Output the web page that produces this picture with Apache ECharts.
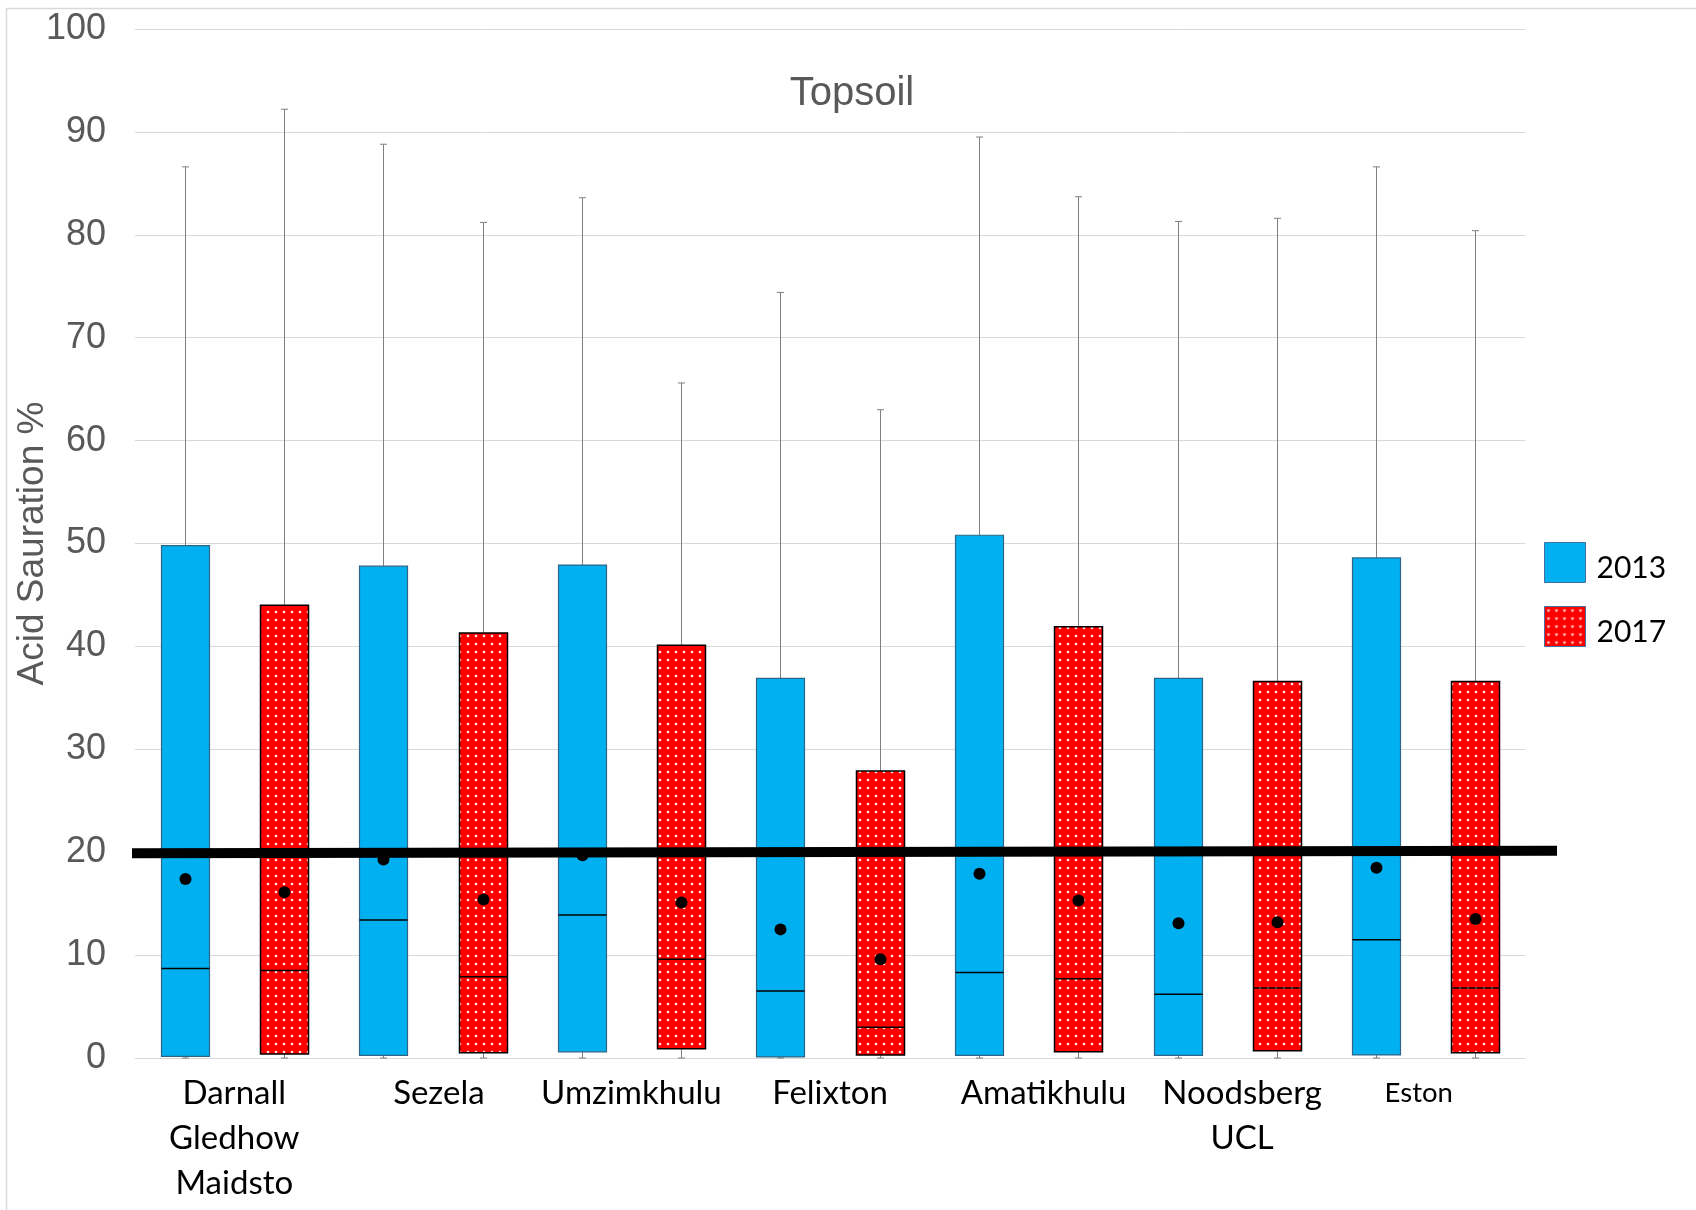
<!DOCTYPE html>
<html>
<head>
<meta charset="utf-8">
<script src="https://cdn.jsdelivr.net/npm/echarts@6/dist/echarts.min.js"></script>
<style>
  html, body { margin: 0; padding: 0; background: #fff; }
  #chart { width: 1696px; height: 1210px; }
</style>
</head>
<body>
<div id="chart"></div>
<script>
// ---- Data ----
const groups = ['Darnall\nGledhow\nMaidsto', 'Sezela', 'Umzimkhulu', 'Felixton', 'Amatikhulu', 'Noodsberg\nUCL', 'Eston'];
const seriesNames = ['2013', '2017'];

const min2013    = [0, 0, 0, 0, 0, 0, 0];
const q1_2013    = [0.15, 0.25, 0.6, 0.1, 0.25, 0.25, 0.3];
const median2013 = [8.7, 13.4, 13.9, 6.5, 8.3, 6.2, 11.5];
const q3_2013    = [49.8, 47.8, 47.9, 36.9, 50.8, 36.9, 48.6];
const max2013    = [86.6, 88.8, 83.6, 74.4, 89.5, 81.3, 86.6];
const mean2013   = [17.4, 19.3, 19.7, 12.5, 17.9, 13.1, 18.5];

const min2017    = [0, 0, 0, 0, 0, 0, 0];
const q1_2017    = [0.4, 0.5, 0.9, 0.3, 0.6, 0.7, 0.5];
const median2017 = [8.5, 7.9, 9.6, 3.0, 7.7, 6.8, 6.8];
const q3_2017    = [44.0, 41.3, 40.1, 27.9, 41.9, 36.6, 36.6];
const max2017    = [92.2, 81.2, 65.6, 63.0, 83.7, 81.6, 80.4];
const mean2017   = [16.1, 15.4, 15.1, 9.6, 15.3, 13.2, 13.5];

const thresholdLine = [19.9, 20.15]; // reference line at ~20 (start, end)
const yTicks = { min: 0, max: 100, interval: 10 };

// ---- Build ----
const slots = [];
for (let i = 0; i < groups.length * 2; i++) slots.push(String(i));

function build(mins, q1s, meds, q3s, maxs, means, offset) {
  return groups.map((g, i) => [2 * i + offset, mins[i], q1s[i], meds[i], q3s[i], maxs[i], means[i]]);
}
const data2013 = build(min2013, q1_2013, median2013, q3_2013, max2013, mean2013, 0);
const data2017 = build(min2017, q1_2017, median2017, q3_2017, max2017, mean2017, 1);

// dotted red pattern
const pc = document.createElement('canvas');
pc.width = 8; pc.height = 8;
const pctx = pc.getContext('2d');
pctx.fillStyle = '#ff0000';
pctx.fillRect(0, 0, 8, 8);
pctx.fillStyle = 'rgba(255,225,225,1)';
pctx.beginPath(); pctx.arc(4, 4, 1.35, 0, Math.PI * 2); pctx.fill();
const redPattern = { image: pc, repeat: 'repeat' };

const boxStyles = [
  { fill: '#00b0f0', stroke: '#2f6585', lineWidth: 1.2 },
  { fill: redPattern, stroke: '#000000', lineWidth: 1.5 }
];

const BOX_W = 48;
const CAP = 3.5;

function renderBox(params, api) {
  const x = api.value(0);
  const pMin = api.coord([x, api.value(1)]);
  const pQ1 = api.coord([x, api.value(2)]);
  const pMed = api.coord([x, api.value(3)]);
  const pQ3 = api.coord([x, api.value(4)]);
  const pMax = api.coord([x, api.value(5)]);
  const pMean = api.coord([x, api.value(6)]);
  const cx = Math.round(pMin[0]) + 0.5;
  const h = BOX_W / 2;
  const st = boxStyles[params.seriesIndex];
  const wStyle = { stroke: '#7f7f7f', lineWidth: 1 };
  return {
    type: 'group',
    children: [
      { type: 'line', shape: { x1: cx, y1: pQ3[1], x2: cx, y2: pMax[1] }, style: wStyle },
      { type: 'line', shape: { x1: cx - CAP, y1: pMax[1], x2: cx + CAP, y2: pMax[1] }, style: wStyle },
      { type: 'line', shape: { x1: cx, y1: pQ1[1], x2: cx, y2: pMin[1] }, style: wStyle },
      { type: 'line', shape: { x1: cx - CAP, y1: pMin[1], x2: cx + CAP, y2: pMin[1] }, style: wStyle },
      { type: 'rect', shape: { x: cx - h, y: pQ3[1], width: BOX_W, height: pQ1[1] - pQ3[1] },
        style: { fill: st.fill, stroke: st.stroke, lineWidth: st.lineWidth } },
      { type: 'line', shape: { x1: cx - h, y1: pMed[1], x2: cx + h, y2: pMed[1] },
        style: { stroke: '#000', lineWidth: 1.5 } },
      { type: 'circle', shape: { cx: cx, cy: pMean[1], r: 6 }, style: { fill: '#000' } }
    ]
  };
}

const labelShift = { 'Sezela': [12, 0], 'Amatikhulu': [30, 0], 'Noodsberg\nUCL': [30, 0], 'Eston': [0, 14] };

const chart = echarts.init(document.getElementById('chart'));
chart.setOption({
  backgroundColor: '#ffffff',
  animation: false,
  title: {
    text: 'Topsoil',
    left: 847, top: 69, textAlign: 'center',
    textStyle: { fontFamily: 'Liberation Sans', fontSize: 40, fontWeight: 'normal', color: '#595959' }
  },
  graphic: [{
    type: 'rect', silent: true, z: -10,
    shape: { x: 6.5, y: 8.5, width: 1720, height: 1230 },
    style: { fill: 'none', stroke: '#d9d9d9', lineWidth: 1.5 }
  }],
  legend: {
    orient: 'vertical', left: 1544, top: 542,
    itemWidth: 41, itemHeight: 40, itemGap: 23, padding: 0,
    icon: 'rect',
    formatter: function (n) { return '{t|' + n + '}'; },
    textStyle: {
      fontFamily: 'Lato', fontSize: 30, color: '#000',
      rich: { t: { fontFamily: 'Lato', fontSize: 30, color: '#000', padding: [11, 0, 0, 6] } }
    },
    data: [
      { name: seriesNames[0], itemStyle: { color: '#00b0f0', borderColor: '#41719c', borderWidth: 1 } },
      { name: seriesNames[1], itemStyle: { color: redPattern, borderColor: '#41719c', borderWidth: 1 } }
    ]
  },
  grid: [
    { left: 135, right: 171, top: 29, bottom: 152, outerBoundsMode: 'none', containLabel: false },
    { left: 132, right: 139, top: 29, bottom: 152, outerBoundsMode: 'none', containLabel: false }
  ],
  xAxis: [
    { type: 'category', gridIndex: 0, data: slots, boundaryGap: true,
      axisLine: { show: false }, axisTick: { show: false }, axisLabel: { show: false } },
    { type: 'category', gridIndex: 0, data: groups, position: 'bottom', boundaryGap: true,
      axisLine: { show: false }, axisTick: { show: false },
      axisLabel: {
        interval: 0, margin: 13, hideOverlap: false,
        formatter: function (v) {
          const s = labelShift[v];
          const key = v === 'Eston' ? 'sm' : 'n';
          if (!s) return v.split('\n').map(t => '{' + key + '|' + t + '}').join('\n');
          return v.split('\n').map(t => '{' + key + (s[0] ? 'r' + s[0] : 'l' + s[1]) + '|' + t + '}').join('\n');
        },
        rich: {
          n: { fontFamily: 'Lato', fontSize: 33, lineHeight: 45, color: '#000' },
          nr12: { fontFamily: 'Lato', fontSize: 33, lineHeight: 45, color: '#000', padding: [0, 0, 0, 12] },
          nr30: { fontFamily: 'Lato', fontSize: 33, lineHeight: 45, color: '#000', padding: [0, 0, 0, 30] },
          sml14: { fontFamily: 'Lato', fontSize: 27.5, lineHeight: 45, color: '#000', padding: [0, 14, 0, 0] },
          sm: { fontFamily: 'Lato', fontSize: 27.5, lineHeight: 45, color: '#000' }
        }
      } },
    { type: 'value', gridIndex: 1, min: 0, max: 1, show: false }
  ],
  yAxis: [
    { type: 'value', gridIndex: 0, min: yTicks.min, max: yTicks.max, interval: yTicks.interval,
      name: 'Acid Sauration %', nameLocation: 'middle', nameGap: 84, nameRotate: 90, nameMoveOverlap: false,
      nameTextStyle: { fontFamily: 'Liberation Sans', fontSize: 37, color: '#595959' },
      axisLine: { show: false }, axisTick: { show: false },
      axisLabel: { fontFamily: 'Liberation Sans', fontSize: 36, color: '#595959', margin: 29 },
      splitLine: { lineStyle: { color: '#d9d9d9', width: 1 } } },
    { type: 'value', gridIndex: 1, min: yTicks.min, max: yTicks.max, show: false }
  ],
  series: [
    { name: seriesNames[0], type: 'custom', xAxisIndex: 0, yAxisIndex: 0,
      itemStyle: { color: '#00b0f0' },
      encode: { x: 0, y: [1, 2, 3, 4, 5, 6] }, renderItem: renderBox, data: data2013, z: 2 },
    { name: seriesNames[1], type: 'custom', xAxisIndex: 0, yAxisIndex: 0,
      itemStyle: { color: redPattern },
      encode: { x: 0, y: [1, 2, 3, 4, 5, 6] }, renderItem: renderBox, data: data2017, z: 2 },
    { name: 'threshold', type: 'line', xAxisIndex: 2, yAxisIndex: 1,
      data: [[0, thresholdLine[0]], [1, thresholdLine[1]]],
      showSymbol: false, symbol: 'none', silent: true, z: 10,
      lineStyle: { color: '#000', width: 10 } }
  ]
});
</script>
</body>
</html>
